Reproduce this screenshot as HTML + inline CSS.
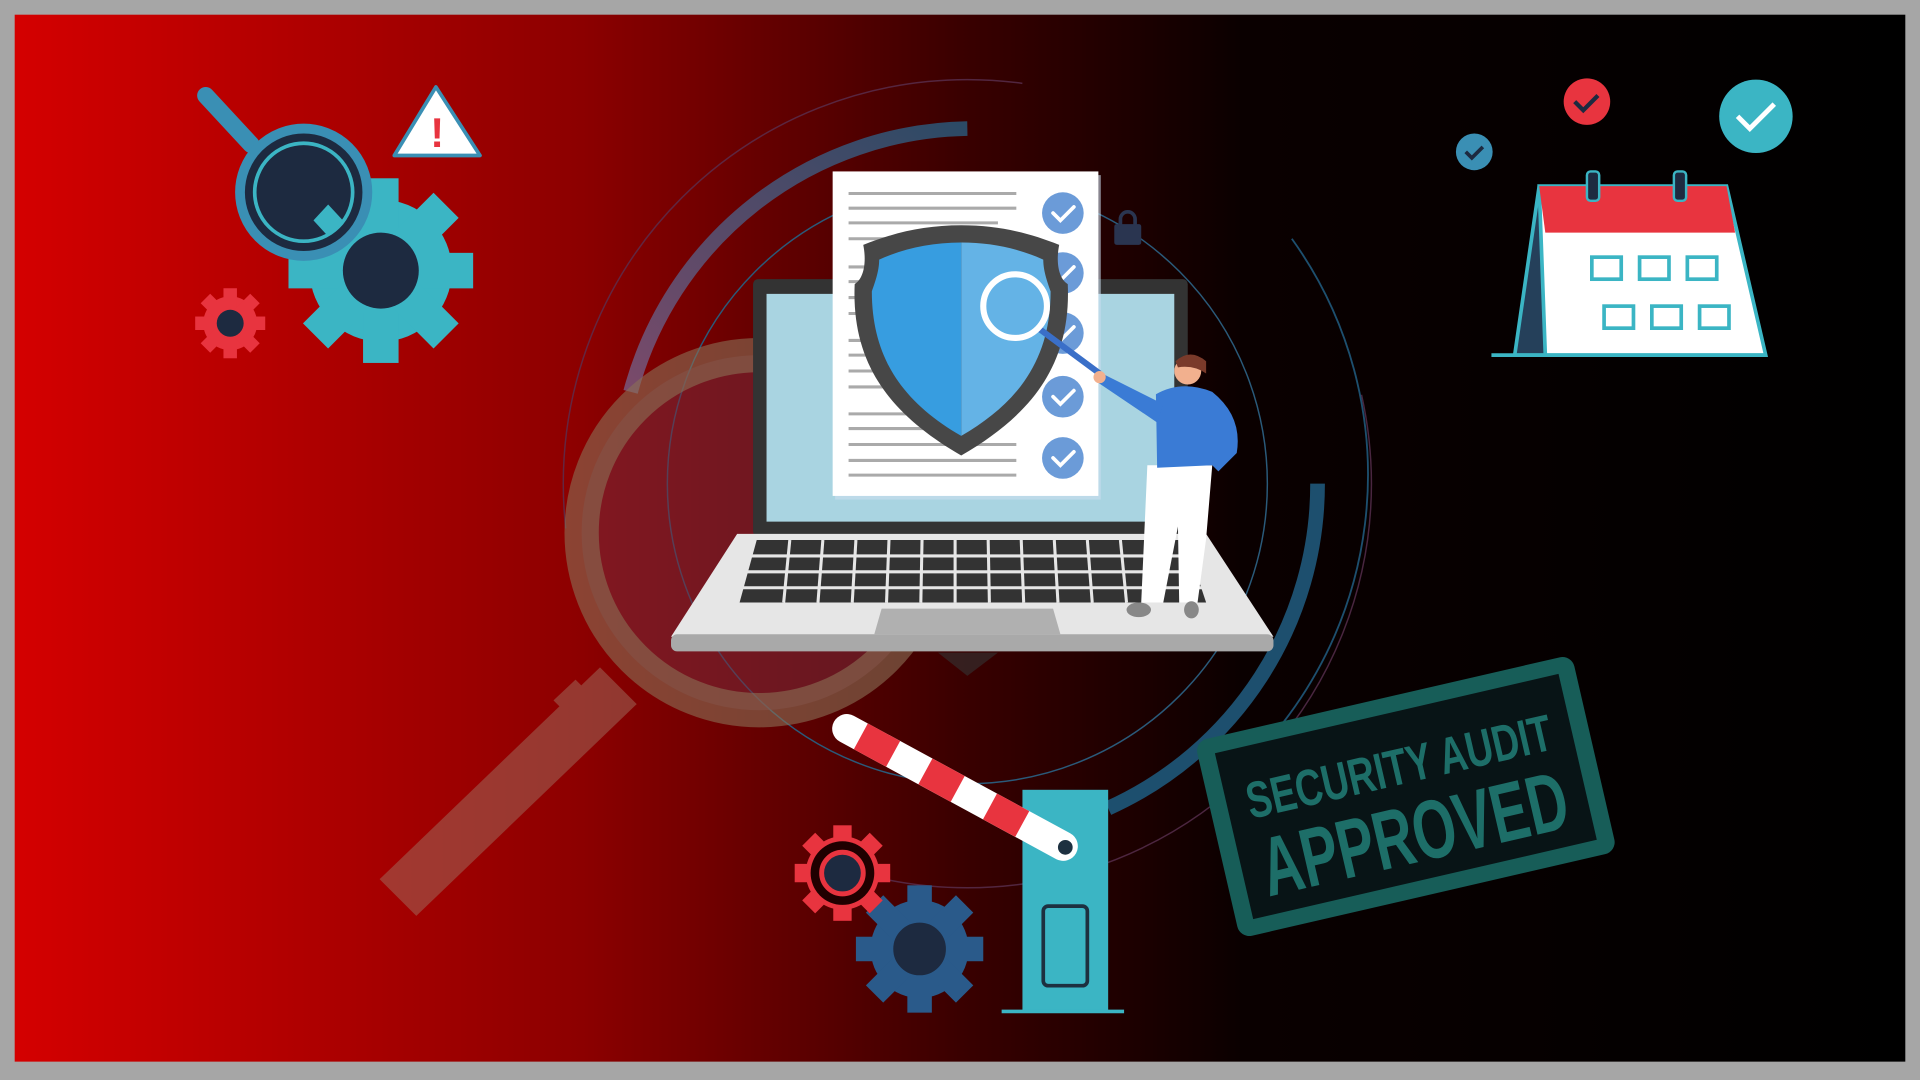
<!DOCTYPE html>
<html><head><meta charset="utf-8"><style>
html,body{margin:0;padding:0;width:1920px;height:1080px;overflow:hidden;background:#a6a6a6}
svg{display:block}
</style></head><body>
<svg width="1920" height="1080" viewBox="0 0 1568 882" preserveAspectRatio="none" xmlns="http://www.w3.org/2000/svg">
<defs>
<linearGradient id="bg" x1="0" x2="1" y1="0" y2="0">
<stop offset="0" stop-color="#d40000"/><stop offset="0.3" stop-color="#8c0000"/><stop offset="0.5" stop-color="#3a0000"/><stop offset="0.65" stop-color="#0a0000"/><stop offset="1" stop-color="#000"/>
</linearGradient>
<linearGradient id="arc" x1="0" x2="1" y1="1" y2="0">
<stop offset="0" stop-color="#7a4a6a"/><stop offset="1" stop-color="#2c4a66"/>
</linearGradient>
<g id="gear">
<circle r="40" fill="currentColor"/>
<g fill="currentColor">
<rect x="-10" y="-52" width="20" height="104"/><rect x="-52" y="-10" width="104" height="20"/>
<rect x="-10" y="-52" width="20" height="104" transform="rotate(45)"/><rect x="-10" y="-52" width="20" height="104" transform="rotate(-45)"/>
</g>
</g>
</defs>
<rect x="12" y="12" width="1544" height="855" fill="url(#bg)"/>
<!-- thin circles -->
<circle cx="790" cy="395" r="330" fill="none" stroke="#5a3050" stroke-width="1.2" stroke-dasharray="600 400" opacity="0.8"/>
<circle cx="790" cy="395" r="245" fill="none" stroke="#2a5a7a" stroke-width="1.2"/>
<path d="M1055 195 A330 330 0 0 1 1000 640" fill="none" stroke="#1d4f6e" stroke-width="1.5"/>
<!-- thick arcs -->
<path d="M790 105 A290 290 0 0 0 515 320" fill="none" stroke="url(#arc)" stroke-width="12"/>
<path d="M1076 395 A290 290 0 0 1 905 660" fill="none" stroke="#1d4f6e" stroke-width="12"/>
<!-- big faded magnifier -->
<circle cx="620" cy="435" r="145" fill="#7a2a3a" opacity="0.55"/>
<circle cx="620" cy="435" r="145" fill="none" stroke="#8a7055" stroke-width="28" opacity="0.6"/>
<g opacity="0.5" fill="#a07060">
<polygon points="490,545 520,575 340,748 310,718"/>
<polygon points="470,555 500,585 480,600 452,572"/>
</g>
<!-- laptop screen -->
<rect x="615" y="228" width="355" height="210" rx="4" fill="#333"/>
<rect x="626" y="240" width="333" height="186" fill="#a9d4e1"/>
<!-- document -->
<rect x="682" y="143" width="217" height="265" fill="#cde" opacity="0.6"/>
<rect x="680" y="140" width="217" height="265" fill="#fff"/>
<g stroke="#aaa" stroke-width="2.5">
<line x1="693" y1="158" x2="830" y2="158"/><line x1="693" y1="170" x2="830" y2="170"/><line x1="693" y1="182" x2="815" y2="182"/><line x1="693" y1="195" x2="830" y2="195"/>
<line x1="693" y1="218" x2="830" y2="218"/><line x1="693" y1="230" x2="830" y2="230"/><line x1="693" y1="243" x2="830" y2="243"/><line x1="693" y1="256" x2="830" y2="256"/>
<line x1="693" y1="278" x2="830" y2="278"/><line x1="693" y1="290" x2="830" y2="290"/><line x1="693" y1="303" x2="830" y2="303"/><line x1="693" y1="316" x2="830" y2="316"/>
<line x1="693" y1="338" x2="830" y2="338"/><line x1="693" y1="350" x2="810" y2="350"/><line x1="693" y1="363" x2="830" y2="363"/><line x1="693" y1="376" x2="830" y2="376"/><line x1="693" y1="388" x2="830" y2="388"/>
</g>
<g fill="#6b9bd8">
<circle cx="868" cy="174" r="17"/><circle cx="868" cy="223" r="17"/><circle cx="868" cy="272" r="17"/><circle cx="868" cy="324" r="17"/><circle cx="868" cy="374" r="17"/>
</g>
<g fill="none" stroke="#fff" stroke-width="3" stroke-linecap="round">
<path d="M860 174 l6 6 l11 -11"/><path d="M860 223 l6 6 l11 -11"/><path d="M860 272 l6 6 l11 -11"/><path d="M860 324 l6 6 l11 -11"/><path d="M860 374 l6 6 l11 -11"/>
</g>
<!-- shield -->
<path d="M785 184 C815 184 840 190 865 200 C862 215 865 228 872 232 C875 300 840 340 785 372 C730 340 695 300 698 232 C705 228 708 215 705 200 C730 190 755 184 785 184 Z" fill="#474747"/>
<path d="M785 198 C810 198 832 203 852 212 C852 222 856 232 858 238 C858 295 830 330 785 356 Z" fill="#64b3e6"/>
<path d="M785 198 C760 198 738 203 718 212 C718 222 714 232 712 238 C712 295 740 330 785 356 Z" fill="#379de0"/>
<!-- magnifier on shield -->
<line x1="848" y1="268" x2="898" y2="305" stroke="#3a6fc8" stroke-width="5"/>
<circle cx="829" cy="250" r="26" fill="#64b3e6" stroke="#fff" stroke-width="5"/>
<!-- lock -->
<rect x="910" y="183" width="22" height="17" rx="2" fill="#2a3550"/>
<path d="M915 184 v-5 a6 6 0 0 1 12 0 v5" fill="none" stroke="#2a3550" stroke-width="3"/>
<!-- laptop base -->
<polygon points="602,436 985,436 1040,520 548,520" fill="#e6e6e6"/>
<rect x="548" y="518" width="492" height="14" rx="5" fill="#a9a9a9"/>
<polygon points="766,533 815,533 790,552" fill="#333" opacity="0.6"/>
<g fill="#333">
<polygon points="618,441 968,441 985,492 604,492"/>
</g>
<g stroke="#e6e6e6" stroke-width="2.5">
<line x1="612" y1="454" x2="975" y2="454"/><line x1="608" y1="467" x2="979" y2="467"/><line x1="606" y1="480" x2="982" y2="480"/>
</g>
<g stroke="#e6e6e6" stroke-width="2.5">
<line x1="645" y1="441" x2="640" y2="492"/><line x1="672" y1="441" x2="668" y2="492"/><line x1="699" y1="441" x2="696" y2="492"/><line x1="726" y1="441" x2="724" y2="492"/><line x1="753" y1="441" x2="752" y2="492"/><line x1="780" y1="441" x2="780" y2="492"/><line x1="807" y1="441" x2="808" y2="492"/><line x1="834" y1="441" x2="836" y2="492"/><line x1="861" y1="441" x2="864" y2="492"/><line x1="888" y1="441" x2="892" y2="492"/><line x1="915" y1="441" x2="920" y2="492"/><line x1="942" y1="441" x2="948" y2="492"/>
</g>
<polygon points="720,497 860,497 866,518 714,518" fill="#b0b0b0"/>
<!-- person -->
<path d="M937 380 L990 380 L985 440 L978 492 L963 492 L962 430 L950 492 L932 492 Z" fill="#fff"/>
<ellipse cx="930" cy="498" rx="10" ry="6" fill="#888"/><ellipse cx="973" cy="498" rx="6" ry="7" fill="#888"/>
<path d="M944 322 Q965 310 990 320 Q1015 340 1010 370 L995 385 L990 380 L945 382 Z" fill="#3a7bd5"/>
<path d="M950 330 L900 305 L896 312 L945 345 Z" fill="#3a7bd5"/>
<circle cx="898" cy="308" r="5" fill="#f2b08e"/>
<circle cx="970" cy="303" r="11" fill="#f2b08e"/>
<path d="M960 295 Q972 284 985 295 L985 305 Q975 298 962 300 Z" fill="#7a3a2a"/>
<!-- stamp -->
<g transform="rotate(-13 1148 650)">
<rect x="990" y="568" width="316" height="165" rx="10" fill="#175d58"/>
<rect x="1004" y="581" width="288" height="139" fill="#081416"/>
<text x="1148" y="640" text-anchor="middle" font-family="'Liberation Sans Narrow','Liberation Sans',sans-serif" font-weight="bold" font-size="42" fill="#1d6e68" transform="scale(1,1)" textLength="255" lengthAdjust="spacingAndGlyphs">SECURITY AUDIT</text>
<text x="1148" y="705" text-anchor="middle" font-family="'Liberation Sans Narrow','Liberation Sans',sans-serif" font-weight="bold" font-size="68" fill="#1d6e68" textLength="255" lengthAdjust="spacingAndGlyphs">APPROVED</text>
</g>
<!-- barrier -->
<rect x="835" y="645" width="70" height="180" fill="#3bb5c4"/>
<rect x="852" y="740" width="36" height="65" rx="4" fill="none" stroke="#1d3040" stroke-width="3"/>
<line x1="818" y1="826" x2="918" y2="826" stroke="#3bb5c4" stroke-width="3"/>
<g transform="rotate(28.5 870 692)">
<rect x="655" y="680" width="225" height="24" rx="12" fill="#fff"/>
<rect x="680" y="680" width="30" height="24" fill="#e8343f"/><rect x="740" y="680" width="30" height="24" fill="#e8343f"/><rect x="800" y="680" width="30" height="24" fill="#e8343f"/>
</g>
<circle cx="870" cy="692" r="6" fill="#1d3040"/>
<!-- gears bottom -->
<g color="#2a5a8a" transform="translate(751,775)"><use href="#gear"/><circle r="22" fill="#1d2a40" stroke="#2a5a8a"/></g>
<g transform="translate(688,713)">
<g color="#e8343f" transform="scale(0.75)"><use href="#gear"/></g>
<circle r="26" fill="#200000"/><circle r="17" fill="#1d2a40" stroke="#e8343f" stroke-width="4"/>
</g>
<!-- top-left -->
<g color="#3bb5c4" transform="translate(311,221)"><use href="#gear" transform="scale(1.45)"/><circle r="31" fill="#1d2a40"/></g>
<g color="#e8343f" transform="translate(188,264)"><use href="#gear" transform="scale(0.55)"/><circle r="11" fill="#1d2a40"/></g>
<line x1="168" y1="78" x2="205" y2="118" stroke="#3a8fb4" stroke-width="14" stroke-linecap="round"/>
<circle cx="248" cy="157" r="52" fill="#1d2a40" stroke="#3a8fb4" stroke-width="8"/>
<circle cx="248" cy="157" r="40" fill="#1d2a40" stroke="#3bb5c4" stroke-width="3"/>
<polygon points="268,167 280,180 268,193 256,180" fill="#3bb5c4"/>
<polygon points="356,71 392,127 322,127" fill="#fff" stroke="#3a8fb4" stroke-width="3" stroke-linejoin="round"/>
<text x="357" y="120" text-anchor="middle" font-family="'Liberation Sans',sans-serif" font-weight="bold" font-size="34" fill="#e8343f">!</text>
<!-- calendar -->
<circle cx="1204" cy="124" r="15" fill="#3a8fb4"/><path d="M1197 124 l5 5 l9 -9" fill="none" stroke="#1d2a40" stroke-width="3"/>
<circle cx="1296" cy="83" r="19" fill="#e8343f"/><path d="M1286 83 l7 7 l12 -12" fill="none" stroke="#1d2a40" stroke-width="3.5"/>
<circle cx="1434" cy="95" r="30" fill="#3bb5c4"/><path d="M1419 95 l10 10 l20 -20" fill="none" stroke="#fff" stroke-width="4"/>
<polygon points="1257,152 1237,290 1290,290" fill="#25405a" stroke="#3bb5c4" stroke-width="3"/>
<polygon points="1257,152 1410,152 1442,290 1262,290" fill="#fff" stroke="#3bb5c4" stroke-width="3"/>
<polygon points="1257,152 1410,152 1417,190 1262,190" fill="#e8343f"/>
<line x1="1218" y1="290" x2="1442" y2="290" stroke="#3bb5c4" stroke-width="3"/>
<rect x="1296" y="140" width="10" height="24" rx="3" fill="#1d2a40" stroke="#3bb5c4" stroke-width="2"/>
<rect x="1367" y="140" width="10" height="24" rx="3" fill="#1d2a40" stroke="#3bb5c4" stroke-width="2"/>
<g fill="none" stroke="#3bb5c4" stroke-width="3">
<rect x="1300" y="210" width="24" height="18"/><rect x="1339" y="210" width="24" height="18"/><rect x="1378" y="210" width="24" height="18"/>
<rect x="1310" y="250" width="24" height="18"/><rect x="1349" y="250" width="24" height="18"/><rect x="1388" y="250" width="24" height="18"/>
</g>
</svg>
</body></html>
